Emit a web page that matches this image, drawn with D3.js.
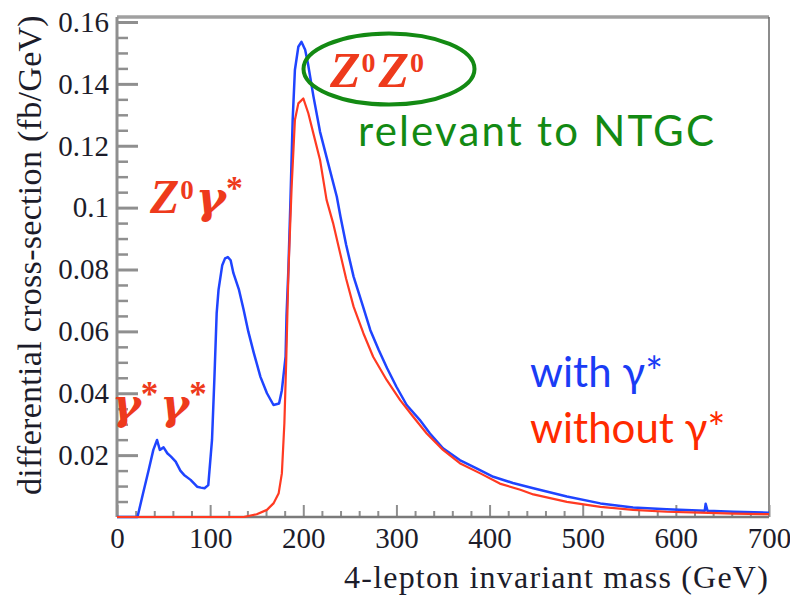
<!DOCTYPE html>
<html><head><meta charset="utf-8">
<script src="https://cdn.jsdelivr.net/npm/d3@7"></script>
<style>body{margin:0;background:#fff}</style>
</head><body>
<svg id="c" width="790" height="600"></svg>
<script>
// ---- data ----
const massWith = [0,22,28,34,39,43,46,50,54,58,63,68,72,79,86,90,94,98,102,104.5,107,109,113,116,119,122,125,131,136,141,147,154,161,168,174,177,181,182,184,186,188.6,191,194.7,198,202,205,211,218,227,236,240,246,254,263,272,281,290,300,311,325,336,350,368,386,404,425,447,483,519,554,590,631,632,634,662,700];
const withGamma = [0,0,0.0077,0.0152,0.0217,0.0249,0.0217,0.0225,0.0206,0.0195,0.0179,0.015,0.0136,0.012,0.0098,0.0095,0.0093,0.0103,0.0249,0.0443,0.0658,0.0734,0.0814,0.0836,0.084,0.083,0.0788,0.0734,0.0669,0.0599,0.0529,0.0453,0.040,0.0362,0.0367,0.041,0.0518,0.065,0.080,0.100,0.1283,0.1445,0.152,0.1536,0.151,0.1466,0.1358,0.1245,0.114,0.1035,0.097,0.088,0.0777,0.0691,0.0604,0.054,0.0481,0.0421,0.0362,0.0314,0.027,0.0222,0.0184,0.0157,0.013,0.011,0.0093,0.0066,0.0044,0.0031,0.0025,0.002,0.0043,0.002,0.0017,0.0014];
const massWithout = [0,136,150,161,168,173.6,177,179.7,181.8,184,186,187.5,191,194.7,200,205.4,210.8,218,225,232,239,246,254,264.5,275,289.5,304,318,332.5,350,368,390,411,433,447,483,519,554,590,626,662,700];
const withoutGamma = [0,0,0.0009,0.0023,0.0044,0.0077,0.0141,0.0303,0.0518,0.0788,0.095,0.1068,0.1283,0.1337,0.1353,0.1305,0.124,0.1154,0.1025,0.095,0.086,0.077,0.068,0.0594,0.0518,0.0443,0.0378,0.0324,0.027,0.0217,0.0174,0.0141,0.0108,0.0088,0.0073,0.0049,0.0033,0.0023,0.0017,0.0014,0.0011,0.0009];
const xTicks = [0,100,200,300,400,500,600,700];
const xTickLabels = ["0","100","200","300","400","500","600","700"];
const yTicks = [0.02,0.04,0.06,0.08,0.1,0.12,0.14,0.16];
const yTickLabels = ["0.02","0.04","0.06","0.08","0.1","0.12","0.14","0.16"];
const xTitle = "4-lepton invariant mass (GeV)";
const yTitle = "differential cross-section (fb/GeV)";

// ---- layout ----
const L = 117, R = 769, B = 517, T = 17;
const serif = "'Liberation Serif', 'Times New Roman', serif";
const gammaFont = "'DejaVu Serif', serif";
const ink = "#1c1c2a";
const svg = d3.select("#c");
const x = d3.scaleLinear().domain([0,700]).range([L,R]);
const y = d3.scaleLinear().domain([0,0.16]).range([B,22]);
const axisGray = "#8f8f8f";

// frame
svg.append("line").attr("x1",L).attr("x2",R).attr("y1",T).attr("y2",T).attr("stroke","#a0a0a0").attr("stroke-width",3.5);
svg.append("line").attr("x1",R).attr("x2",R).attr("y1",T).attr("y2",B).attr("stroke","#666").attr("stroke-width",1.5);

// y axis
const yMinor = d3.range(0,0.1601,0.005).filter(v=>Math.abs(Math.round(v/0.02)*0.02-v)>1e-6);
const yAxis = d3.axisLeft(y).tickValues(yTicks).tickSize(-21).tickFormat((d,i)=>yTickLabels[i]).tickPadding(8);
const gy = svg.append("g").attr("transform",`translate(${L},0)`).call(yAxis);
gy.attr("font-family",null).attr("font-size",null);
gy.select(".domain").remove();
gy.selectAll(".tick line").attr("stroke",axisGray).attr("stroke-width",3);
gy.selectAll(".tick text").style("font-family",serif).style("font-size","29px").attr("fill",ink);
const gym = svg.append("g").attr("transform",`translate(${L},0)`).call(d3.axisLeft(y).tickValues(yMinor).tickSize(-11).tickFormat(""));
gym.select(".domain").remove();
gym.selectAll(".tick line").attr("stroke",axisGray).attr("stroke-width",2.5);
svg.append("line").attr("x1",L).attr("x2",L).attr("y1",T).attr("y2",B).attr("stroke",axisGray).attr("stroke-width",3);

// x axis
const xMinor = d3.range(0,701,20).filter(v=>v%100!==0);
const gx = svg.append("g").attr("transform",`translate(0,${B})`).call(d3.axisBottom(x).tickValues(xTicks).tickSize(-12).tickFormat((d,i)=>xTickLabels[i]));
gx.attr("font-family",null).attr("font-size",null);
gx.select(".domain").remove();
gx.selectAll(".tick line").attr("stroke",axisGray).attr("stroke-width",2);
gx.selectAll(".tick text").style("font-family",serif).style("font-size","29px").attr("fill",ink).attr("y",31).attr("dy",0);
const gxm = svg.append("g").attr("transform",`translate(0,${B})`).call(d3.axisBottom(x).tickValues(xMinor).tickSize(-6).tickFormat(""));
gxm.select(".domain").remove();
gxm.selectAll(".tick line").attr("stroke",axisGray).attr("stroke-width",2);
svg.append("line").attr("x1",L).attr("x2",R).attr("y1",B).attr("y2",B).attr("stroke","#7a7a7a").attr("stroke-width",2.5);

// titles
svg.append("text").attr("x",R).attr("y",588).attr("text-anchor","end")
  .style("font-family",serif).style("font-size","32px").style("letter-spacing","1.2px").attr("fill",ink).text(xTitle);
svg.append("text").attr("transform","translate(41,15) rotate(-90)").attr("text-anchor","end")
  .style("font-family",serif).style("font-size","34px").style("letter-spacing","0.3px").attr("fill",ink).text(yTitle);

// curves
const line = d3.line().x(d=>x(d[0])).y(d=>y(d[1]));
svg.append("path").datum(massWith.map((m,i)=>[m,withGamma[i]])).attr("d",line)
  .attr("fill","none").attr("stroke","#1f44ff").attr("stroke-width",2.5).attr("stroke-linejoin","round");
svg.append("path").datum(massWithout.map((m,i)=>[m,withoutGamma[i]])).attr("d",line)
  .attr("fill","none").attr("stroke","#ff3a22").attr("stroke-width",2.2).attr("stroke-linejoin","round");

// annotations
const red = "#ee3a1c";
// parts: {t, kind:'Z'|'g'|'sup'|'star', dx}
function mathLabel(x0, y0, size, supSize, rise, parts){
  const t = svg.append("text").attr("x",x0).attr("y",y0).attr("fill",red)
    .style("font-family",serif).style("font-style","italic").style("font-weight","bold").style("font-size",size+"px");
  let raised = false;
  parts.forEach(p=>{
    const s = t.append("tspan").text(p.t).attr("dx",p.dx||0);
    if(p.kind==="sup" || p.kind==="star"){
      s.style("font-size",(p.kind==="star"?supSize*1.25:supSize)+"px").style("font-style","normal").attr("dy",-rise);
      raised = true;
    } else {
      if(raised){ s.attr("dy",rise); raised = false; }
      if(p.kind==="g") s.style("font-family",gammaFont).style("font-size",(size*0.95)+"px");
    }
  });
}
mathLabel(330,87,50,28,15,[{t:"Z",kind:"Z"},{t:"0",kind:"sup",dx:1},{t:"Z",kind:"Z",dx:3},{t:"0",kind:"sup",dx:1}]);
mathLabel(150,213,48,27,14,[{t:"Z",kind:"Z"},{t:"0",kind:"sup",dx:1},{t:"\u03b3",kind:"g",dx:2},{t:"*",kind:"star",dx:0}]);
mathLabel(112,419,46,28,13,[{t:"\u03b3",kind:"g"},{t:"*",kind:"star"},{t:"\u03b3",kind:"g",dx:2},{t:"*",kind:"star"}]);

svg.append("ellipse").attr("cx",389).attr("cy",69).attr("rx",85.5).attr("ry",35.5)
  .attr("fill","none").attr("stroke","#138a13").attr("stroke-width",4);
svg.append("text").attr("x",358).attr("y",146).style("font-family","Lato").style("font-size","42px")
  .style("letter-spacing","2.2px").attr("fill","#138a13").text("relevant to NTGC");
svg.append("text").attr("x",530).attr("y",387).style("font-family","Lato").style("font-size","42px")
  .attr("fill","#1a3cf5").text("with \u03b3*");
svg.append("text").attr("x",530).attr("y",443).style("font-family","Lato").style("font-size","42px")
  .attr("fill","#ff2a00").text("without \u03b3*");
</script>
</body></html>
